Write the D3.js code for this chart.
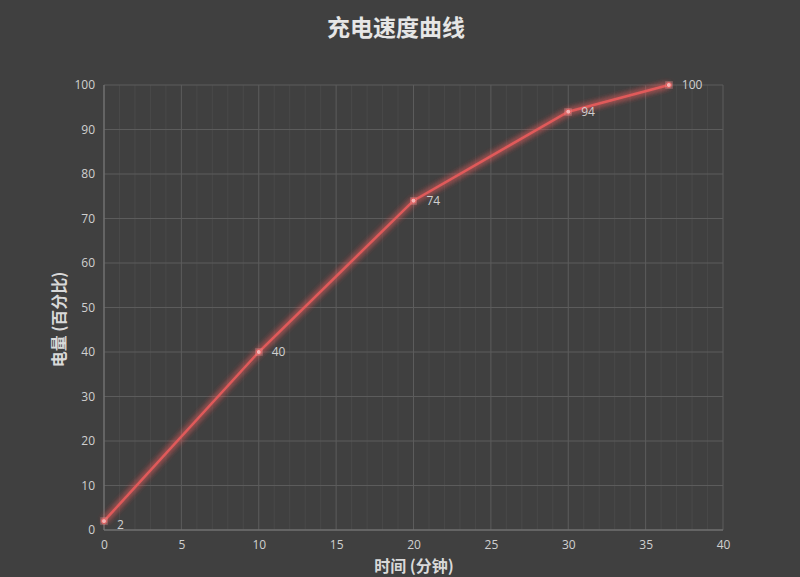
<!DOCTYPE html>
<html>
<head>
<meta charset="utf-8">
<script src="https://cdn.jsdelivr.net/npm/d3@7"></script>
<style>
  body { margin: 0; background: #404040; }
  text { font-family: "Noto Sans CJK SC", "Open Sans", sans-serif; }
</style>
</head>
<body>
<div id="chart"></div>
<script>
// charging curve data
const minutes = [0, 10, 20, 30, 36.5];
const charge = [2, 40, 74, 94, 100];
const xTicks = [0, 5, 10, 15, 20, 25, 30, 35, 40];
const yTicks = [0, 10, 20, 30, 40, 50, 60, 70, 80, 90, 100];
const minorX = d3.range(0, 41, 1);

const margin = { top: 85, right: 77, bottom: 47, left: 104 };
const width = 800 - margin.left - margin.right;
const height = 577 - margin.top - margin.bottom;

const root = d3.select("#chart")
    .append("svg")
    .attr("width", 800)
    .attr("height", 577);

root.append("rect").attr("width", 800).attr("height", 577).attr("fill", "#404040");

const defs = root.append("defs");
const glow = defs.append("filter").attr("id", "glow")
    .attr("x", "-20%").attr("y", "-20%").attr("width", "140%").attr("height", "140%");
glow.append("feGaussianBlur").attr("stdDeviation", 3).attr("result", "blur");
const merge = glow.append("feMerge");
merge.append("feMergeNode").attr("in", "blur");
merge.append("feMergeNode").attr("in", "blur");
merge.append("feMergeNode").attr("in", "SourceGraphic");

const svg = root.append("g")
    .attr("transform", `translate(${margin.left},${margin.top})`);

const x = d3.scaleLinear().domain([0, 40]).range([0, width]);
const y = d3.scaleLinear().domain([0, 100]).range([height, 0]);

// minor vertical grid
svg.append("g")
    .selectAll("line")
    .data(minorX.filter(d => d % 5 !== 0))
    .join("line")
    .attr("x1", d => x(d)).attr("x2", d => x(d))
    .attr("y1", 0).attr("y2", height)
    .attr("stroke", "#494949").attr("stroke-width", 1);

// major grid
svg.append("g")
    .selectAll("line")
    .data(xTicks)
    .join("line")
    .attr("x1", d => x(d)).attr("x2", d => x(d))
    .attr("y1", 0).attr("y2", height)
    .attr("stroke", "#5c5c5c").attr("stroke-width", 1);

svg.append("g")
    .selectAll("line")
    .data(yTicks)
    .join("line")
    .attr("x1", 0).attr("x2", width)
    .attr("y1", d => y(d)).attr("y2", d => y(d))
    .attr("stroke", "#5c5c5c").attr("stroke-width", 1);

// axis lines
svg.append("line").attr("x1", 0).attr("x2", 0).attr("y1", 0).attr("y2", height)
    .attr("stroke", "#7a7a7a");
svg.append("line").attr("x1", 0).attr("x2", width).attr("y1", height).attr("y2", height)
    .attr("stroke", "#7a7a7a");

const xAxis = svg.append("g")
    .attr("transform", `translate(0,${height})`)
    .call(d3.axisBottom(x).tickValues(xTicks).tickSize(0).tickPadding(10));
const yAxis = svg.append("g")
    .call(d3.axisLeft(y).tickValues(yTicks).tickSize(0).tickPadding(9));
[xAxis, yAxis].forEach(a => {
    a.select(".domain").remove();
    a.selectAll("text")
        .attr("fill", "#d0d0d0")
        .style("font-size", "12px")
        .style("font-family", "'Open Sans', sans-serif");
});

const pts = minutes.map((m, i) => ({ m: m, c: charge[i] }));

const line = d3.line().x(d => x(d.m)).y(d => y(d.c));

svg.append("path")
    .datum(pts)
    .attr("d", line)
    .attr("fill", "none")
    .attr("stroke", "#e05a5a")
    .attr("stroke-width", 2.5)
    .attr("filter", "url(#glow)");

svg.selectAll(".dot")
    .data(pts)
    .join("circle")
    .attr("class", "dot")
    .attr("cx", d => x(d.m))
    .attr("cy", d => y(d.c))
    .attr("r", 2.5)
    .attr("fill", "#f4b6b6")
    .attr("stroke", "#e05a5a")
    .attr("stroke-width", 1)
    .attr("filter", "url(#glow)");

svg.selectAll(".lbl")
    .data(pts)
    .join("text")
    .attr("class", "lbl")
    .attr("x", d => x(d.m) + 13)
    .attr("y", d => y(d.c) + (d.c < 10 ? 8 : 4))
    .attr("fill", "#d0d0d0")
    .style("font-size", "12px")
    .style("font-family", "'Open Sans', sans-serif")
    .text(d => d.c);

// titles
root.append("text")
    .attr("x", 396).attr("y", 36)
    .attr("text-anchor", "middle")
    .attr("fill", "#e6e6e6")
    .style("font-size", "23px")
    .style("font-weight", "bold")
    .text("充电速度曲线");

root.append("text")
    .attr("x", 414).attr("y", 572)
    .attr("text-anchor", "middle")
    .attr("fill", "#d9d9d9")
    .style("font-size", "16px")
    .style("font-weight", "bold")
    .text("时间 (分钟)");

root.append("text")
    .attr("transform", `translate(65,${margin.top + height / 2 + 12}) rotate(-90)`)
    .attr("text-anchor", "middle")
    .attr("fill", "#d9d9d9")
    .style("font-size", "16px")
    .style("font-weight", "bold")
    .text("电量 (百分比)");
</script>
</body>
</html>
